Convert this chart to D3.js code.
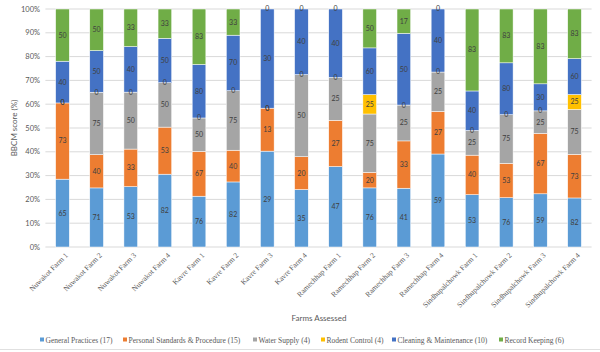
<!DOCTYPE html>
<html>
<head>
<meta charset="utf-8">
<script src="https://cdn.jsdelivr.net/npm/d3@7"></script>
<style>
  html, body { margin: 0; padding: 0; background: #fff; }
  svg { display: block; }
</style>
</head>
<body>
<svg id="chart" width="600" height="352"></svg>
<script>
const farms = ["Nuwakot  Farm 1","Nuwakot Farm 2","Nuwakot Farm 3","Nuwakot Farm 4",
  "Kavre Farm 1","Kavre Farm 2","Kavre Farm 3","Kavre Farm 4",
  "Ramechhap Farm 1","Ramechhap Farm 2","Ramechhap Farm 3","Ramechhap Farm 4",
  "Sindhupalchowk Farm 1","Sindhupalchowk Farm 2","Sindhupalchowk Farm 3","Sindhupalchowk Farm 4"];
const seriesNames = ["General Practices (17)","Personal Standards & Procedure (15)","Water Supply (4)",
  "Rodent Control (4)","Cleaning & Maintenance (10)","Record Keeping (6)"];
const generalPractices  = [65,71,53,82,76,82,29,35,47,76,41,59,53,76,59,82];
const personalStandards = [73,40,33,53,67,40,13,20,27,20,33,27,40,53,67,73];
const waterSupply       = [0,75,50,50,50,75,0,50,25,75,25,25,25,75,25,75];
const rodentControl     = [0,0,0,0,0,0,0,0,0,25,0,0,0,0,0,25];
const cleaning          = [40,50,40,50,80,70,30,40,40,60,50,40,40,80,30,60];
const recordKeeping     = [50,50,33,33,83,33,0,0,0,50,17,0,83,83,83,83];
const yTicks = [0,0.1,0.2,0.3,0.4,0.5,0.6,0.7,0.8,0.9,1.0];
const colors = ["#5B9BD5","#ED7D31","#A5A5A5","#FFC000","#4472C4","#70AD47"];

const allSeries = [generalPractices, personalStandards, waterSupply, rodentControl, cleaning, recordKeeping];
const keys = seriesNames;
const table = farms.map((f, i) => {
  const row = { farm: f };
  keys.forEach((k, j) => row[k] = allSeries[j][i]);
  return row;
});

const svg = d3.select("#chart");
const x = d3.scaleBand().domain(farms).range([45.4, 591.6]).paddingInner(0.6).paddingOuter(0.3);
const y = d3.scaleLinear().domain([0, 1]).range([247, 9]);

// gridlines
svg.append("g").selectAll("line").data(yTicks).join("line")
  .attr("x1", 45.4).attr("x2", 591.6)
  .attr("y1", d => y(d)).attr("y2", d => y(d))
  .attr("stroke", "#d9d9d9").attr("stroke-width", 1);

// y tick labels
svg.append("g").selectAll("text").data(yTicks).join("text")
  .attr("x", 40).attr("y", d => y(d)).attr("dy", "0.35em")
  .attr("text-anchor", "end")
  .attr("font-family", "Lato, 'Liberation Sans', sans-serif")
  .attr("font-size", 7.5).attr("fill", "#595959")
  .text(d => d3.format(".0%")(d));

const stack = d3.stack().keys(keys).offset(d3.stackOffsetExpand);
const stacked = stack(table);

const layers = svg.append("g").selectAll("g").data(stacked).join("g")
  .attr("fill", (d, i) => colors[i]);
layers.selectAll("rect").data(d => d).join("rect")
  .attr("x", d => x(d.data.farm))
  .attr("width", x.bandwidth())
  .attr("y", d => y(d[1]))
  .attr("height", d => Math.max(0, y(d[0]) - y(d[1])))
  .attr("stroke", "#ffffff").attr("stroke-width", 0.5);

// data labels
const labels = svg.append("g");
stacked.forEach((layer, si) => {
  labels.selectAll(null).data(layer).join("text")
    .attr("x", d => x(d.data.farm) + x.bandwidth() / 2)
    .attr("y", d => y((d[0] + d[1]) / 2))
    .attr("dy", "0.35em")
    .attr("text-anchor", "middle")
    .attr("font-family", "Lato, 'Liberation Sans', sans-serif")
    .attr("font-size", 7)
    .attr("fill", "#404040")
    .text(d => d.data[layer.key]);
});

// category labels
svg.append("g").selectAll("text").data(farms).join("text")
  .attr("transform", d => `translate(${x(d) + x.bandwidth() / 2 + 4},${254}) rotate(-45)`)
  .attr("text-anchor", "end")
  .attr("dy", "0.35em")
  .attr("font-family", "'Liberation Serif', 'Times New Roman', serif")
  .attr("font-size", 7.5).attr("fill", "#595959")
  .text(d => d);

// axis titles
svg.append("text")
  .attr("transform", `translate(14,128) rotate(-90)`)
  .attr("text-anchor", "middle")
  .attr("dy", "0.35em")
  .attr("font-family", "Lato, 'Liberation Sans', sans-serif")
  .attr("font-size", 8).attr("fill", "#595959")
  .text("BBCM score (%)");

svg.append("text")
  .attr("x", 319).attr("y", 318)
  .attr("text-anchor", "middle")
  .attr("dy", "0.35em")
  .attr("font-family", "Lato, 'Liberation Sans', sans-serif")
  .attr("font-size", 8).attr("fill", "#595959")
  .text("Farms Assessed");

// legend
const legend = svg.append("g");
const legendStarts = [40, 123, 253, 321, 392, 499];
keys.forEach((k, i) => {
  const g = legend.append("g").attr("transform", `translate(${legendStarts[i]},340)`);
  g.append("rect").attr("x", 0).attr("y", -2.5).attr("width", 4).attr("height", 4).attr("fill", colors[i]);
  g.append("text").attr("x", 5.5).attr("y", 0).attr("dy", "0.35em")
    .attr("font-family", "'Liberation Serif', 'Times New Roman', serif")
    .attr("font-size", 7.5).attr("fill", "#595959")
    .text(k);
});

// bottom border line
svg.append("line").attr("x1", 0).attr("x2", 600).attr("y1", 349.5).attr("y2", 349.5)
  .attr("stroke", "#e0e0e0").attr("stroke-width", 1);
</script>
</body>
</html>
